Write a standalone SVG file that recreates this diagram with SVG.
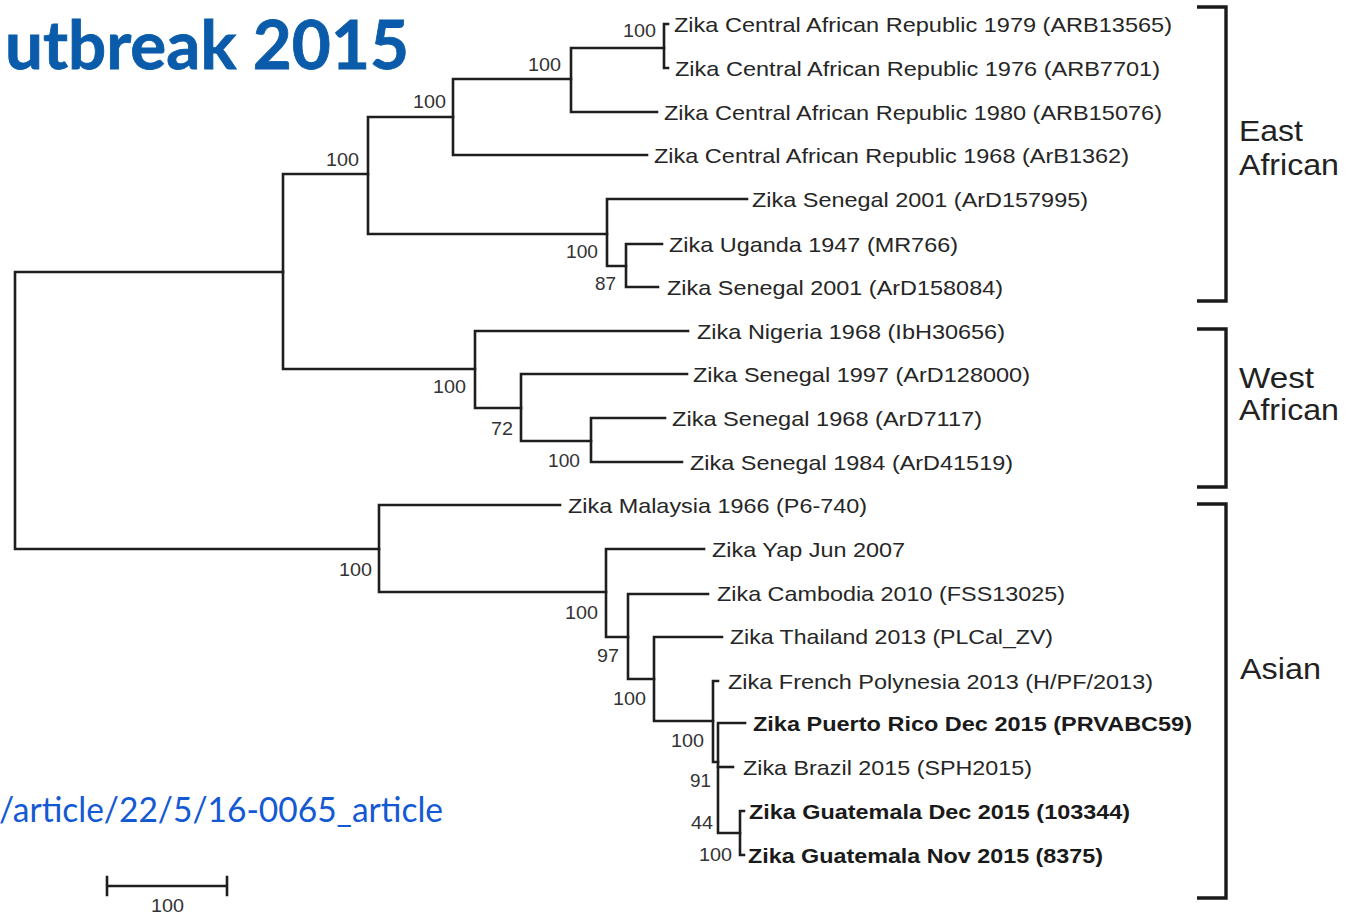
<svg xmlns="http://www.w3.org/2000/svg" width="1355" height="914" viewBox="0 0 1355 914">
<style>
.br{fill:none;stroke:#1e1e1e;stroke-width:2.6;stroke-linecap:square;stroke-linejoin:miter}
.bk{fill:none;stroke:#1a1a1a;stroke-width:3.4;stroke-linejoin:miter}
.lf{font-family:"Liberation Sans",Arial,sans-serif;font-size:21px;fill:#262626}
.lb{font-weight:bold;fill:#1a1a1a}
.bs{font-family:"Liberation Sans",Arial,sans-serif;font-size:18.5px;fill:#333}
.cl{font-family:"Liberation Sans",Arial,sans-serif;font-size:29px;fill:#222}
</style>
<rect width="1355" height="914" fill="#ffffff"/>
<text x="5" y="69" font-family="Lato,'Open Sans',sans-serif" font-weight="bold" font-size="66" fill="#0A5CAA" stroke="#0A5CAA" stroke-width="0.8" textLength="404" lengthAdjust="spacingAndGlyphs">utbreak 2015</text>
<text x="-1" y="822" font-family="Lato,'Open Sans',sans-serif" font-size="34" fill="#1459D4" textLength="444" lengthAdjust="spacingAndGlyphs">/article/22/5/16-0065_article</text>
<g id="connectors">
<path class="br" d="M283 272 H15 V549 H379"/>
<path class="br" d="M368 174 H283 V369 H475"/>
<path class="br" d="M453 117 H368 V234 H607"/>
<path class="br" d="M571 79 H453 V155 H647"/>
<path class="br" d="M664 48 H571 V112 H657"/>
<path class="br" d="M668 24 H664 V68 H668"/>
<path class="br" d="M747 199 H607 V266 H626"/>
<path class="br" d="M662 244 H626 V287 H658"/>
<path class="br" d="M688 331 H475 V408 H521"/>
<path class="br" d="M687 374 H521 V441 H591"/>
<path class="br" d="M665 418 H591 V462 H682"/>
<path class="br" d="M560 505 H379 V592 H606"/>
<path class="br" d="M704 549 H606 V637 H628"/>
<path class="br" d="M708 594 H628 V679 H654"/>
<path class="br" d="M722 637 H654 V721 H713"/>
<path class="br" d="M718 681 H713 V762 H718"/>
<path class="br" d="M745 723 H718 V833 H740"/>
<path class="br" d="M718 767 H733"/>
<path class="br" d="M744 811 H740 V855 H744"/>
</g>
<g id="scale-bar">
<path class="br" d="M107 886 H227 M107 877 V895 M227 877 V895"/>
<text class="bs" x="151" y="912" textLength="33" lengthAdjust="spacingAndGlyphs">100</text>
</g>
<g id="leaves">
<g id="leaf-1"><text class="lf" x="674" y="31.5" textLength="498" lengthAdjust="spacingAndGlyphs">Zika Central African Republic 1979 (ARB13565)</text></g>
<g id="leaf-2"><text class="lf" x="675" y="75.5" textLength="485" lengthAdjust="spacingAndGlyphs">Zika Central African Republic 1976 (ARB7701)</text></g>
<g id="leaf-3"><text class="lf" x="664" y="119.5" textLength="498" lengthAdjust="spacingAndGlyphs">Zika Central African Republic 1980 (ARB15076)</text></g>
<g id="leaf-4"><text class="lf" x="654" y="162.5" textLength="475" lengthAdjust="spacingAndGlyphs">Zika Central African Republic 1968 (ArB1362)</text></g>
<g id="leaf-5"><text class="lf" x="752" y="206.5" textLength="336" lengthAdjust="spacingAndGlyphs">Zika Senegal 2001 (ArD157995)</text></g>
<g id="leaf-6"><text class="lf" x="669" y="251.5" textLength="289" lengthAdjust="spacingAndGlyphs">Zika Uganda 1947 (MR766)</text></g>
<g id="leaf-7"><text class="lf" x="667" y="294.5" textLength="336" lengthAdjust="spacingAndGlyphs">Zika Senegal 2001 (ArD158084)</text></g>
<g id="leaf-8"><text class="lf" x="697" y="338.5" textLength="308" lengthAdjust="spacingAndGlyphs">Zika Nigeria 1968 (IbH30656)</text></g>
<g id="leaf-9"><text class="lf" x="693" y="381.5" textLength="337" lengthAdjust="spacingAndGlyphs">Zika Senegal 1997 (ArD128000)</text></g>
<g id="leaf-10"><text class="lf" x="672" y="425.5" textLength="310" lengthAdjust="spacingAndGlyphs">Zika Senegal 1968 (ArD7117)</text></g>
<g id="leaf-11"><text class="lf" x="690" y="469.5" textLength="323" lengthAdjust="spacingAndGlyphs">Zika Senegal 1984 (ArD41519)</text></g>
<g id="leaf-12"><text class="lf" x="568" y="512.5" textLength="299" lengthAdjust="spacingAndGlyphs">Zika Malaysia 1966 (P6-740)</text></g>
<g id="leaf-13"><text class="lf" x="712" y="556.5" textLength="193" lengthAdjust="spacingAndGlyphs">Zika Yap Jun 2007</text></g>
<g id="leaf-14"><text class="lf" x="717" y="601" textLength="348" lengthAdjust="spacingAndGlyphs">Zika Cambodia 2010 (FSS13025)</text></g>
<g id="leaf-15"><text class="lf" x="730" y="643.5" textLength="323" lengthAdjust="spacingAndGlyphs">Zika Thailand 2013 (PLCal_ZV)</text></g>
<g id="leaf-16"><text class="lf" x="728" y="688.5" textLength="425" lengthAdjust="spacingAndGlyphs">Zika French Polynesia 2013 (H/PF/2013)</text></g>
<g id="leaf-17"><text class="lf lb" x="753" y="730.5" textLength="439" lengthAdjust="spacingAndGlyphs">Zika Puerto Rico Dec 2015 (PRVABC59)</text></g>
<g id="leaf-18"><text class="lf" x="743" y="774.5" textLength="289" lengthAdjust="spacingAndGlyphs">Zika Brazil 2015 (SPH2015)</text></g>
<g id="leaf-19"><text class="lf lb" x="749" y="818.5" textLength="381" lengthAdjust="spacingAndGlyphs">Zika Guatemala Dec 2015 (103344)</text></g>
<g id="leaf-20"><text class="lf lb" x="748" y="862.5" textLength="355" lengthAdjust="spacingAndGlyphs">Zika Guatemala Nov 2015 (8375)</text></g>
</g>
<g id="support">
<g id="node-A"><text class="bs" x="623" y="37" textLength="33" lengthAdjust="spacingAndGlyphs">100</text></g>
<g id="node-B"><text class="bs" x="528" y="71" textLength="33" lengthAdjust="spacingAndGlyphs">100</text></g>
<g id="node-C"><text class="bs" x="413" y="108" textLength="33" lengthAdjust="spacingAndGlyphs">100</text></g>
<g id="node-D"><text class="bs" x="326" y="166" textLength="33" lengthAdjust="spacingAndGlyphs">100</text></g>
<g id="node-F"><text class="bs" x="566" y="258" textLength="32" lengthAdjust="spacingAndGlyphs">100</text></g>
<g id="node-G"><text class="bs" x="595" y="290" textLength="21" lengthAdjust="spacingAndGlyphs">87</text></g>
<g id="node-H"><text class="bs" x="433" y="393" textLength="33" lengthAdjust="spacingAndGlyphs">100</text></g>
<g id="node-J"><text class="bs" x="491" y="435" textLength="22" lengthAdjust="spacingAndGlyphs">72</text></g>
<g id="node-K"><text class="bs" x="548" y="467" textLength="32" lengthAdjust="spacingAndGlyphs">100</text></g>
<g id="node-I"><text class="bs" x="339" y="576" textLength="33" lengthAdjust="spacingAndGlyphs">100</text></g>
<g id="node-L"><text class="bs" x="565" y="619" textLength="33" lengthAdjust="spacingAndGlyphs">100</text></g>
<g id="node-M"><text class="bs" x="597" y="662" textLength="22" lengthAdjust="spacingAndGlyphs">97</text></g>
<g id="node-N"><text class="bs" x="613" y="705" textLength="33" lengthAdjust="spacingAndGlyphs">100</text></g>
<g id="node-O"><text class="bs" x="671" y="747" textLength="33" lengthAdjust="spacingAndGlyphs">100</text></g>
<g id="node-P"><text class="bs" x="690" y="787" textLength="21" lengthAdjust="spacingAndGlyphs">91</text></g>
<g id="node-R"><text class="bs" x="691" y="829" textLength="22" lengthAdjust="spacingAndGlyphs">44</text></g>
<g id="node-Q"><text class="bs" x="699" y="861" textLength="33" lengthAdjust="spacingAndGlyphs">100</text></g>
</g>
<g id="clade-east">
<path class="bk" d="M1197 7 H1226 V301 H1197"/>
<text class="cl" x="1239" y="141" textLength="64" lengthAdjust="spacingAndGlyphs">East</text>
<text class="cl" x="1239" y="175" textLength="100" lengthAdjust="spacingAndGlyphs">African</text>
</g>
<g id="clade-west">
<path class="bk" d="M1197 329 H1226 V487 H1197"/>
<text class="cl" x="1239" y="388" textLength="75" lengthAdjust="spacingAndGlyphs">West</text>
<text class="cl" x="1239" y="420" textLength="100" lengthAdjust="spacingAndGlyphs">African</text>
</g>
<g id="clade-asian">
<path class="bk" d="M1197 504 H1226 V898 H1197"/>
<text class="cl" x="1240" y="679" textLength="81" lengthAdjust="spacingAndGlyphs">Asian</text>
</g>
</svg>
